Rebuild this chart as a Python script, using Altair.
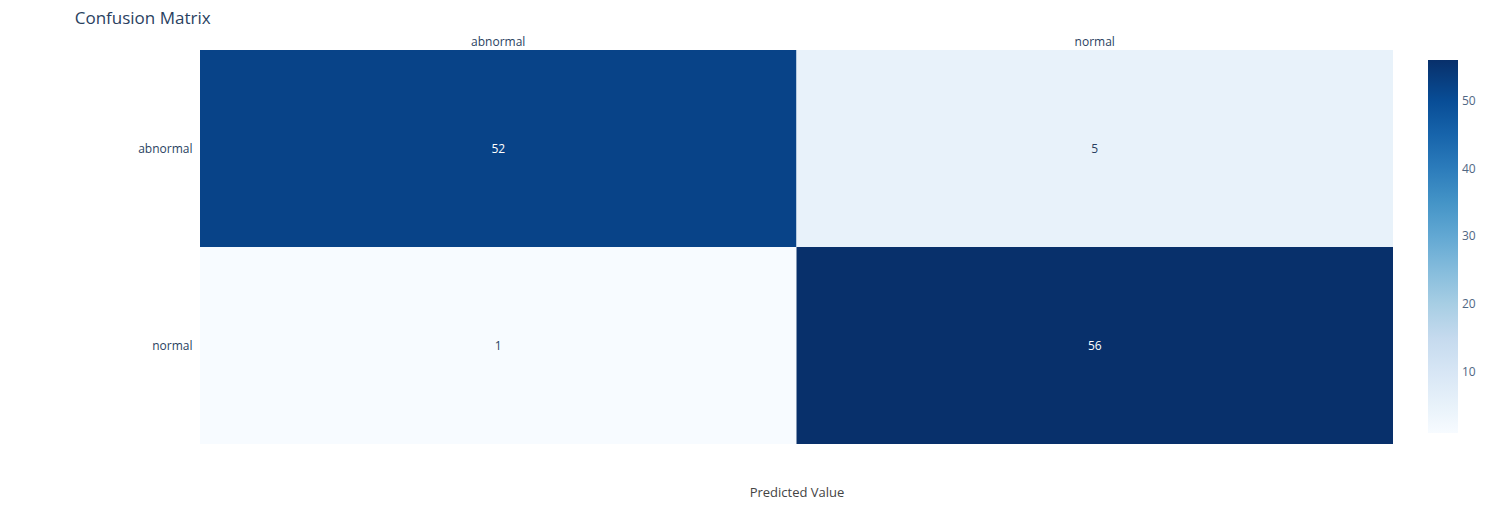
import altair as alt
import pandas as pd

classes = ["abnormal", "normal"]
actual = ["abnormal", "abnormal", "normal", "normal"]
predicted = ["abnormal", "normal", "abnormal", "normal"]
counts = [52, 5, 1, 56]
legend_ticks = [10, 20, 30, 40, 50]
z_min, z_max = 1, 56
blues = ["rgb(247,251,255)", "rgb(222,235,247)", "rgb(198,219,239)", "rgb(158,202,225)",
         "rgb(107,174,214)", "rgb(66,146,198)", "rgb(33,113,181)", "rgb(8,81,156)", "rgb(8,48,107)"]
stop_pos = [0, 0.125, 0.25, 0.375, 0.5, 0.625, 0.75, 0.875, 1]
color_domain = [z_min + (z_max - z_min) * s for s in stop_pos]

df = pd.DataFrame({"Actual": actual, "Predicted": predicted, "Count": counts})

FONT = "Open Sans"
TXT = "#2a3f5f"

xscale = alt.Scale(domain=classes, paddingInner=0, paddingOuter=0)
yscale = alt.Scale(domain=classes, paddingInner=0, paddingOuter=0)
yaxis = alt.Axis(title=None, ticks=False, domain=False, grid=False, labelPadding=8,
                 labelFont=FONT, labelFontSize=12, labelColor=TXT)

rect = alt.Chart(df).mark_rect(strokeWidth=0).encode(
    x=alt.X("Predicted:N", scale=xscale,
            axis=alt.Axis(orient="top", title=None, labelAngle=0, ticks=False, domain=False,
                          grid=False, labelPadding=2, labelFont=FONT, labelFontSize=12,
                          labelColor=TXT)),
    y=alt.Y("Actual:N", scale=yscale, axis=yaxis),
    color=alt.Color("Count:Q",
                    scale=alt.Scale(domain=color_domain, range=blues, interpolate="rgb"),
                    legend=alt.Legend(orient="none", legendX=1228, legendY=10, title=None,
                                      direction="vertical", gradientLength=373, gradientThickness=30,
                                      values=legend_ticks, labelFont=FONT, labelFontSize=12,
                                      labelColor="#506784", labelOffset=4, gradientStrokeWidth=0)),
)

text = alt.Chart(df).mark_text(font=FONT, fontSize=12).encode(
    x=alt.X("Predicted:N", scale=xscale,
            axis=alt.Axis(orient="bottom", title="Predicted Value", labels=False, ticks=False,
                          domain=False, grid=False, titlePadding=42, titleFont=FONT,
                          titleFontSize=13, titleFontWeight="normal", titleColor="#444")),
    y=alt.Y("Actual:N", scale=yscale, axis=yaxis),
    text=alt.Text("Count:Q"),
    color=alt.condition(alt.datum.Count > 28, alt.value("white"), alt.value(TXT)),
)

chart = alt.layer(rect, text).resolve_axis(x="independent").properties(
    width=1193, height=394,
    background="white",
    autosize=alt.AutoSizeParams(type="none"),
    padding={"left": 200, "top": 50, "right": 102, "bottom": 81},
    title=alt.TitleParams("Confusion Matrix", anchor="start", font=FONT, fontSize=17,
                          fontWeight="normal", color=TXT, dx=-63, offset=7),
).configure_view(stroke=None)

chart.save("out.html", embed_options={"renderer": "svg", "actions": False})
